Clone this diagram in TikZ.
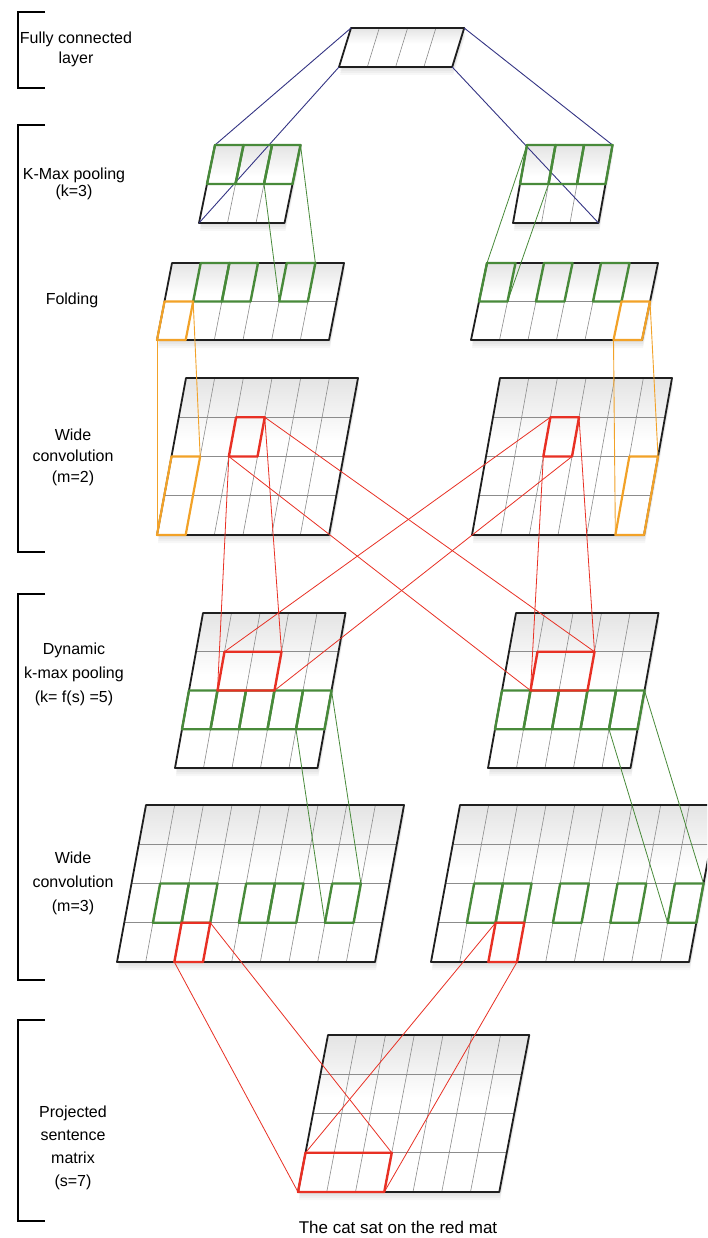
\documentclass[tikz,border=0pt]{standalone}
\usepackage{fontspec}
\setmainfont{Liberation Sans}
\usetikzlibrary{calc}
\definecolor{kgreen}{RGB}{72,138,58}
\definecolor{kred}{RGB}{232,48,36}
\definecolor{korange}{RGB}{242,162,40}
\definecolor{kblue}{RGB}{52,52,132}
\pgfdeclareverticalshading{matgrad}{100bp}{color(0bp)=(white); color(55bp)=(white); color(100bp)=(black!24)}
\tikzset{
  gridline/.style={draw=black!45, line width=0.6pt},
  frame/.style={draw=black!88, line width=1.8pt, line join=round},
  hlgreen/.style={draw=kgreen, line width=2.4pt, line join=round},
  hlred/.style={draw=kred, line width=2.4pt, line join=round},
  hlorange/.style={draw=korange, line width=2.2pt, line join=round},
  linkblue/.style={draw=kblue, line width=0.9pt},
  linkgreen/.style={draw=kgreen, line width=0.8pt},
  linkred/.style={draw=kred, line width=0.8pt},
  linkorange/.style={draw=korange, line width=0.9pt},
  bracket/.style={draw=black, line width=1.3pt},
  lab/.style={font=\fontsize{16}{20}\selectfont, align=center, inner sep=0pt},
}
% #1 name, #2 TLx, #3 TLy, #4 cell w, #5 cell h, #6 skew per row, #7 cols, #8 rows
\newcommand\mgrid[8]{%
  \foreach \i in {0,...,#7}{\foreach \j in {0,...,#8}{%
    \coordinate (#1-\i-\j) at ({#2+\i*#4-\j*#6},{#3+\j*#5});}}
  \foreach \k in {2,4,6,8}{\fill[black,opacity=0.03] ([shift={(1,\k)}]#1-0-0) -- ([shift={(1,\k)}]#1-#7-0) -- ([shift={(1,\k)}]#1-#7-#8) -- ([shift={(1,\k)}]#1-0-#8) -- cycle;}
  \shade[shading=matgrad] (#1-0-0) -- (#1-#7-0) -- (#1-#7-#8) -- (#1-0-#8) -- cycle;
  \pgfmathtruncatemacro\nrr{#8-1}\pgfmathtruncatemacro\ncc{#7-1}
  \ifnum\nrr>0 \foreach \j in {1,...,\nrr}{\draw[gridline] (#1-0-\j) -- (#1-#7-\j);}\fi
  \foreach \i in {1,...,\ncc}{\draw[gridline] (#1-\i-0) -- (#1-\i-#8);}
  \draw[frame] (#1-0-0) -- (#1-#7-0) -- (#1-#7-#8) -- (#1-0-#8) -- cycle;
}
\newcommand\kcell[4]{%
  \pgfmathtruncatemacro\ii{#2+1}\pgfmathtruncatemacro\jj{#3+1}%
  \draw[#4] (#1-#2-#3) -- (#1-\ii-#3) -- (#1-\ii-\jj) -- (#1-#2-\jj) -- cycle;}
\newcommand\krect[6]{%
  \draw[#6] (#1-#2-#3) -- (#1-#4-#3) -- (#1-#4-#5) -- (#1-#2-#5) -- cycle;}
\begin{document}
\begin{tikzpicture}[x=1pt,y=-1pt]
\useasboundingbox (0,0) rectangle (707,1238);
\fill[white] (0,0) rectangle (707,1238);
\clip (0,0) rectangle (707,1238);

% matrices
\mgrid{FC}{351}{28}{28.3}{39}{12}{4}{1}
\mgrid{KL}{215}{145}{28.5}{39}{8}{3}{2}
\mgrid{KR}{527}{145}{28.5}{39}{7}{3}{2}
\mgrid{FL}{172}{263}{28.67}{38.5}{7.5}{6}{2}
\mgrid{FR}{487}{263}{28.5}{38.5}{8}{6}{2}
\mgrid{WL}{186}{378}{28.67}{39.25}{7.25}{6}{4}
\mgrid{WR}{500}{378}{28.67}{39.25}{7}{6}{4}
\mgrid{DL}{203}{613}{28.5}{38.75}{7}{5}{4}
\mgrid{DR}{516}{613}{28.5}{38.75}{7}{5}{4}
\mgrid{VL}{146}{805}{28.67}{39.25}{7.25}{9}{4}
\mgrid{VR}{460}{805}{28.67}{39.25}{7.25}{9}{4}
\mgrid{P}{328}{1035}{28.75}{39.25}{7.5}{7}{4}

% connectors
\draw[linkblue] (FC-0-0) -- (KL-0-0);
\draw[linkblue] (FC-0-1) -- (KL-0-2);
\draw[linkblue] (FC-4-0) -- (KR-3-0);
\draw[linkblue] (FC-4-1) -- (KR-3-2);

\draw[linkgreen] (KL-3-0) -- (FL-5-0);
\draw[linkgreen] (KL-2-1) -- (FL-4-1);
\draw[linkgreen] (KR-0-0) -- (FR-0-0);
\draw[linkgreen] (KR-1-1) -- (FR-1-1);

\draw[linkorange] (FL-0-2) -- (WL-0-4);
\draw[linkorange] (FL-1-1) -- (WL-1-2);
\draw[linkorange] (FR-5-2) -- (WR-5-4);
\draw[linkorange] (FR-6-1) -- (WR-6-2);

\draw[linkred] (WL-3-1) -- (DL-3-1);
\draw[linkred] (WL-2-2) -- (DL-1-2);
\draw[linkred] (WL-3-1) -- (DR-3-1);
\draw[linkred] (WL-2-2) -- (DR-1-2);
\draw[linkred] (WR-2-1) -- (DL-1-1);
\draw[linkred] (WR-3-2) -- (DL-3-2);
\draw[linkred] (WR-3-1) -- (DR-3-1);
\draw[linkred] (WR-2-2) -- (DR-1-2);

\draw[linkgreen] (DL-4-3) -- (VL-7-3);
\draw[linkgreen] (DL-5-2) -- (VL-8-2);
\draw[linkgreen] (DR-4-3) -- (VR-8-3);
\draw[linkgreen] (DR-5-2) -- (VR-9-2);

\draw[linkred] (VL-3-3) -- (P-3-3);
\draw[linkred] (VL-2-4) -- (P-0-4);
\draw[linkred] (VR-2-3) -- (P-0-3);
\draw[linkred] (VR-3-4) -- (P-3-4);

% highlights
\foreach \c in {0,1,2}{\kcell{KL}{\c}{0}{hlgreen}\kcell{KR}{\c}{0}{hlgreen}}
\foreach \c in {1,2,4}{\kcell{FL}{\c}{0}{hlgreen}}
\foreach \c in {0,2,4}{\kcell{FR}{\c}{0}{hlgreen}}
\kcell{FL}{0}{1}{hlorange}
\kcell{FR}{5}{1}{hlorange}
\krect{WL}{0}{2}{1}{4}{hlorange}
\krect{WR}{5}{2}{6}{4}{hlorange}
\kcell{WL}{2}{1}{hlred}
\kcell{WR}{2}{1}{hlred}
\foreach \c in {0,...,4}{\kcell{DL}{\c}{2}{hlgreen}\kcell{DR}{\c}{2}{hlgreen}}
\krect{DL}{1}{1}{3}{2}{hlred}
\krect{DR}{1}{1}{3}{2}{hlred}
\foreach \c in {1,2,4,5,7}{\kcell{VL}{\c}{2}{hlgreen}}
\foreach \c in {1,2,4,6,8}{\kcell{VR}{\c}{2}{hlgreen}}
\kcell{VL}{2}{3}{hlred}
\kcell{VR}{2}{3}{hlred}
\krect{P}{0}{3}{3}{4}{hlred}

% brackets
\draw[bracket] (45,12) -- (18,12) -- (18,88) -- (45,88);
\draw[bracket] (45,125) -- (18,125) -- (18,552) -- (45,552);
\draw[bracket] (45,594) -- (18,594) -- (18,980) -- (45,980);
\draw[bracket] (45,1020) -- (18,1020) -- (18,1221) -- (45,1221);

% labels
\node[lab] (tfc) at (76,49) {Fully connected\\layer};
\node[lab, font=\fontsize{16}{17}\selectfont] (tkm) at (74,184) {K-Max pooling\\(k=3)};
\node[lab] (tfo) at (72,300) {Folding};
\node[lab, font=\fontsize{16}{21}\selectfont] (tw2) at (73,457) {Wide\\convolution\\(m=2)};
\node[lab, font=\fontsize{16}{24}\selectfont] (tdk) at (74,674) {Dynamic\\k-max pooling\\(k= f(s) =5)};
\node[lab, font=\fontsize{16}{24}\selectfont] (tw3) at (73,883) {Wide\\convolution\\(m=3)};
\node[lab, font=\fontsize{16}{23}\selectfont] (tps) at (73,1148) {Projected\\sentence\\matrix\\(s=7)};
\node[lab, font=\fontsize{17}{20}\selectfont] (tsen) at (398,1227) {The cat sat on the red mat};
\end{tikzpicture}
\end{document}
